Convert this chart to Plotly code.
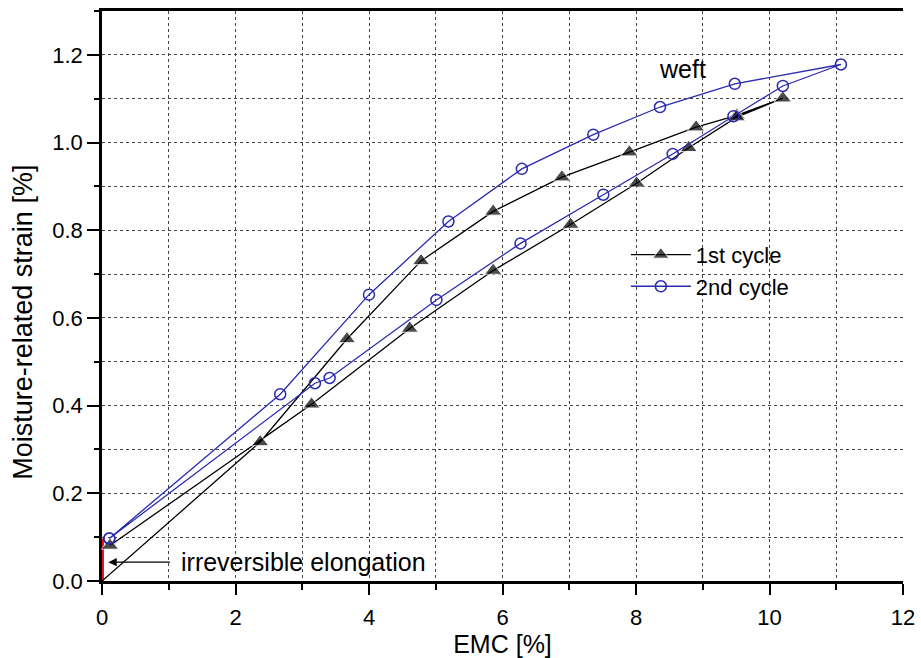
import plotly.graph_objects as go

# ---- data ----
x_tick_vals = [0, 2, 4, 6, 8, 10, 12]
y_tick_vals = [0.0, 0.2, 0.4, 0.6, 0.8, 1.0, 1.2]

# 1st cycle (starts at the dry origin, wetting branch then drying branch)
cycle1_emc = [0.0, 2.37, 3.67, 4.78, 5.86, 6.89, 7.90, 8.90, 9.51, 10.20,
              9.51, 8.79, 8.01, 7.02, 5.86, 4.61, 3.14, 0.12]
cycle1_strain = [0.0, 0.317, 0.552, 0.730, 0.843, 0.921, 0.978, 1.035, 1.062, 1.101,
                 1.058, 0.988, 0.907, 0.813, 0.708, 0.576, 0.403, 0.081]

# 2nd cycle
cycle2_emc = [0.11, 2.67, 4.00, 5.19, 6.29, 7.36, 8.36, 9.48, 11.07,
              10.20, 9.46, 8.55, 7.51, 6.27, 5.01, 3.41, 3.19, 0.11]
cycle2_strain = [0.097, 0.426, 0.653, 0.820, 0.940, 1.018, 1.081, 1.134, 1.178,
                 1.129, 1.060, 0.974, 0.881, 0.770, 0.641, 0.463, 0.451, 0.097]

# irreversible elongation (red bar at EMC = 0)
irreversible_emc = [0.0, 0.0]
irreversible_strain = [0.0, 0.097]

# annotation anchors
weft_label = ("weft", 8.70, 1.167)
irrev_label = ("irreversible elongation", 1.15, 0.044)
irrev_arrow = (0.095, 0.043, 1.04, 0.043)  # head x, head y, tail x, tail y

FONT = "Liberation Sans, Arial, Helvetica, sans-serif"
BLUE = "#2b2bb0"
GRID = "#444444"

fig = go.Figure()

fig.add_trace(go.Scatter(
    x=irreversible_emc, y=irreversible_strain, mode="lines", showlegend=False,
    line=dict(color="#e8131b", width=4), cliponaxis=False, hoverinfo="skip",
))
c1_sizes = [0] + [15] * (len(cycle1_emc) - 1)
fig.add_trace(go.Scatter(
    x=cycle1_emc, y=cycle1_strain, mode="lines+markers", name="1st cycle",
    line=dict(color="black", width=1.3),
    marker=dict(symbol="triangle-up", size=c1_sizes, color="black"),
    cliponaxis=False,
))
fig.add_trace(go.Scatter(
    x=cycle2_emc, y=cycle2_strain, mode="lines+markers", name="2nd cycle",
    line=dict(color=BLUE, width=1.3),
    marker=dict(symbol="circle-open", size=11, color=BLUE, line=dict(width=1.5, color=BLUE)),
    cliponaxis=False,
))

axis_common = dict(
    showline=True, linewidth=2.5, linecolor="black", automargin=False,
    zeroline=False, tickcolor="black", tickwidth=2,
    tickfont=dict(family=FONT, size=22, color="black"),
)

fig.update_layout(
    width=921, height=658,
    margin=dict(l=102, r=18, t=11, b=77, autoexpand=False),
    paper_bgcolor="white", plot_bgcolor="white",
    font=dict(family=FONT, color="black"),
    xaxis=dict(
        range=[0, 12], tickvals=x_tick_vals, ticks="outside", ticklen=11,
        mirror=True, showgrid=True, gridcolor=GRID, griddash="dot", gridwidth=1,
        minor=dict(dtick=1, ticks="outside", ticklen=6, tickwidth=2, tickcolor="black",
                   showgrid=True, gridcolor=GRID, griddash="dot", gridwidth=1),
        title=dict(text="EMC [%]", font=dict(family=FONT, size=25), standoff=5),
        ticklabelstandoff=4,
        **axis_common,
    ),
    yaxis=dict(
        range=[0, 1.3], tickvals=y_tick_vals, tickformat=".1f", ticks="outside", ticklen=12,
        mirror=False, showgrid=True, gridcolor=GRID, griddash="dot", gridwidth=1,
        minor=dict(dtick=0.1, ticks="outside", ticklen=5, tickwidth=2, tickcolor="black",
                   showgrid=True, gridcolor=GRID, griddash="dot", gridwidth=1),
        layer="below traces",
        **axis_common,
    ),
    yaxis2=dict(
        range=[0, 1.3], overlaying="y", side="right", tickvals=y_tick_vals,
        ticks="inside", ticklen=11, showticklabels=False, showgrid=False,
        minor=dict(dtick=0.1, ticks="inside", ticklen=7, tickwidth=2, tickcolor="black"),
        showline=True, linewidth=2.5, linecolor="black", zeroline=False, automargin=False,
        tickcolor="black", tickwidth=2,
    ),
    legend=dict(
        x=0.654, y=0.609, xanchor="left", yanchor="top",
        bgcolor="rgba(0,0,0,0)", borderwidth=0,
        font=dict(family=FONT, size=22, color="black"),
        itemwidth=60,
    ),
    showlegend=True,
)

fig.add_annotation(
    x=weft_label[1], y=weft_label[2], text=weft_label[0], showarrow=False,
    font=dict(family=FONT, size=25, color="black"), xanchor="center", yanchor="middle",
)
fig.add_annotation(
    x=irrev_label[1], y=irrev_label[2], text=irrev_label[0], showarrow=False,
    font=dict(family=FONT, size=25, color="black"), xanchor="left", yanchor="middle",
)
fig.add_annotation(
    x=irrev_arrow[0], y=irrev_arrow[1], ax=irrev_arrow[2], ay=irrev_arrow[3],
    axref="x", ayref="y", xref="x", yref="y", text="", showarrow=True,
    arrowhead=2, arrowsize=1.4, arrowwidth=1.2, arrowcolor="black",
)
# y-axis title
fig.add_annotation(
    xref="paper", yref="paper", x=-0.098, y=0.454, text="Moisture-related strain [%]",
    textangle=-90, showarrow=False, xanchor="center", yanchor="middle",
    font=dict(family=FONT, size=27, color="black"),
)

fig.write_html(
    "out.html",
    config={"displayModeBar": False},
    post_script="document.body.style.margin='0';document.body.style.padding='0';",
)
